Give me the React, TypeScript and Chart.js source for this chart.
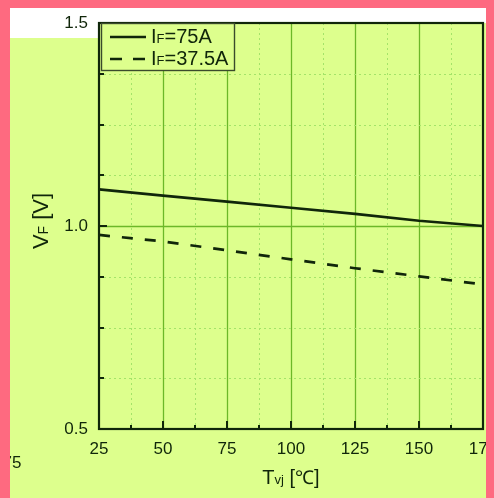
import React, { useEffect, useRef } from "react";
import { Chart, registerables } from "chart.js";

Chart.register(...registerables);

// ---- data ----
const temperatures = [25, 50, 75, 100, 125, 150, 175];
const vfIF75 = [1.09, 1.075, 1.06, 1.045, 1.03, 1.013, 1.0];
const vfIF375 = [0.978, 0.962, 0.94, 0.918, 0.896, 0.876, 0.856];
const legendMain = ["I", "I"];
const legendSub = ["F", "F"];
const legendRest = ["=75A", "=37.5A"];
const xMin = 25;
const xMax = 175;
const xMajorStep = 25;
const xMinorStep = 12.5;
const yMin = 0.5;
const yMax = 1.5;
const yMajorStep = 0.5;
const yMinorStep = 0.125;

const PINK = "#FE6A80";
const LIME = "#DDFF8D";
const INK = "#10260a";
const FONT = "'Liberation Sans', Arial, sans-serif";

const decorPlugin = {
  id: "decor",
  beforeDatasetsDraw(chart: any) {
    const { ctx, chartArea: a, scales } = chart;
    const xs = scales.x;
    const ys = scales.y;
    ctx.save();
    // vertical grid
    for (let v = xMin + xMinorStep; v < xMax - 1e-6; v += xMinorStep) {
      const px = Math.round(xs.getPixelForValue(v)) + 0.5;
      const major = Math.abs(((v - xMin) / xMajorStep) - Math.round((v - xMin) / xMajorStep)) < 1e-6;
      ctx.beginPath();
      if (major) {
        ctx.setLineDash([]);
        ctx.strokeStyle = "#6cb828";
        ctx.lineWidth = 1.3;
      } else {
        ctx.setLineDash([2, 3]);
        ctx.strokeStyle = "#a4e468";
        ctx.lineWidth = 1;
      }
      ctx.moveTo(px, a.top);
      ctx.lineTo(px, a.bottom);
      ctx.stroke();
    }
    // horizontal grid
    for (let v = yMin + yMinorStep; v < yMax - 1e-6; v += yMinorStep) {
      const py = Math.round(ys.getPixelForValue(v)) + 0.5;
      const major = Math.abs(((v - yMin) / yMajorStep) - Math.round((v - yMin) / yMajorStep)) < 1e-6;
      ctx.beginPath();
      if (major) {
        ctx.setLineDash([]);
        ctx.strokeStyle = "#6cb828";
        ctx.lineWidth = 1.3;
      } else {
        ctx.setLineDash([2, 3]);
        ctx.strokeStyle = "#a4e468";
        ctx.lineWidth = 1;
      }
      ctx.moveTo(a.left, py);
      ctx.lineTo(a.right, py);
      ctx.stroke();
    }
    ctx.restore();
  },
  afterDatasetsDraw(chart: any) {
    const { ctx, chartArea: a, scales } = chart;
    const xs = scales.x;
    const ys = scales.y;
    ctx.save();
    ctx.setLineDash([]);
    ctx.strokeStyle = INK;
    // tick marks (inward)
    ctx.lineWidth = 2;
    for (let v = xMin + xMinorStep; v < xMax - 1e-6; v += xMinorStep) {
      const px = Math.round(xs.getPixelForValue(v));
      const major = Math.abs(((v - xMin) / xMajorStep) - Math.round((v - xMin) / xMajorStep)) < 1e-6;
      const len = major ? 8 : 4;
      ctx.beginPath();
      ctx.moveTo(px, a.bottom);
      ctx.lineTo(px, a.bottom - len);
      ctx.stroke();
    }
    for (let v = yMin + yMinorStep; v < yMax - 1e-6; v += yMinorStep) {
      const py = Math.round(ys.getPixelForValue(v));
      const major = Math.abs(((v - yMin) / yMajorStep) - Math.round((v - yMin) / yMajorStep)) < 1e-6;
      const len = major ? 8 : 5;
      ctx.beginPath();
      ctx.moveTo(a.left, py);
      ctx.lineTo(a.left + len, py);
      ctx.stroke();
    }
    // frame
    ctx.lineWidth = 2.2;
    ctx.strokeRect(a.left, a.top, a.right - a.left, a.bottom - a.top);

    // legend
    const lx = a.left + 2;
    const ly = a.top;
    const lw = 133;
    const lh = 47;
    ctx.fillStyle = LIME;
    ctx.fillRect(lx, ly, lw, lh);
    ctx.lineWidth = 1.4;
    ctx.strokeStyle = "#3a4a2c";
    ctx.strokeRect(lx + 0.5, ly + 0.5, lw, lh);
    const rows = [14, 36];
    const dashes = [[], [12, 11]];
    rows.forEach((dy, i) => {
      const yLine = ly + dy;
      ctx.beginPath();
      ctx.setLineDash(dashes[i]);
      ctx.strokeStyle = INK;
      ctx.lineWidth = 2.6;
      ctx.moveTo(lx + 9, yLine);
      ctx.lineTo(lx + 45, yLine);
      ctx.stroke();
      ctx.setLineDash([]);
      const base = yLine + 6;
      let tx = lx + 50;
      ctx.fillStyle = INK;
      ctx.textBaseline = "alphabetic";
      ctx.textAlign = "left";
      ctx.font = `20px ${FONT}`;
      ctx.fillText(legendMain[i], tx, base);
      tx += ctx.measureText(legendMain[i]).width;
      ctx.font = `13px ${FONT}`;
      ctx.fillText(legendSub[i], tx, base);
      tx += ctx.measureText(legendSub[i]).width;
      ctx.font = `20px ${FONT}`;
      ctx.fillText(legendRest[i], tx, base);
    });

    // x title: T_vj [℃]
    const xParts: [string, number][] = [["T", 20], ["vj", 13], [" [", 20], ["\u2103", 19], ["]", 20]];
    let total = 0;
    xParts.forEach(([t, s]) => {
      ctx.font = `${s}px ${FONT}`;
      total += ctx.measureText(t).width;
    });
    let cx = (a.left + a.right) / 2 - total / 2;
    const xBase = a.bottom + 55;
    ctx.fillStyle = INK;
    xParts.forEach(([t, s]) => {
      ctx.font = `${s}px ${FONT}`;
      ctx.fillText(t, cx, xBase);
      cx += ctx.measureText(t).width;
    });

    // y title: V_F [V]
    const yParts: [string, number][] = [["V", 22], ["F", 14], [" [V]", 22]];
    let ytotal = 0;
    yParts.forEach(([t, s]) => {
      ctx.font = `${s}px ${FONT}`;
      ytotal += ctx.measureText(t).width;
    });
    ctx.save();
    ctx.translate(38, (a.top + a.bottom) / 2 - 5);
    ctx.rotate(-Math.PI / 2);
    let yx = -ytotal / 2;
    yParts.forEach(([t, s]) => {
      ctx.font = `${s}px ${FONT}`;
      ctx.fillText(t, yx, 0);
      yx += ctx.measureText(t).width;
    });
    ctx.restore();

    // clipped remnant of a tick label at the left edge
    ctx.font = `17px ${FONT}`;
    ctx.fillText("75", -7.5, 460);
    ctx.restore();
  },
};

export default function App() {
  const ref = useRef<HTMLCanvasElement | null>(null);
  useEffect(() => {
    if (!ref.current) return;
    const chart = new Chart(ref.current, {
      type: "line",
      data: {
        datasets: [
          {
            label: legendMain[0] + legendSub[0] + legendRest[0],
            data: temperatures.map((t, i) => ({ x: t, y: vfIF75[i] })),
            borderColor: INK,
            borderWidth: 2.7,
            pointRadius: 0,
            tension: 0,
          },
          {
            label: legendMain[1] + legendSub[1] + legendRest[1],
            data: temperatures.map((t, i) => ({ x: t, y: vfIF375[i] })),
            borderColor: INK,
            borderWidth: 2.7,
            borderDash: [11, 12],
            pointRadius: 0,
            tension: 0,
          },
        ],
      },
      options: {
        responsive: false,
        animation: false,
        devicePixelRatio: 1,
        layout: { padding: { top: 15, right: 3, left: 0, bottom: 0 } },
        plugins: { legend: { display: false }, tooltip: { enabled: false } },
        scales: {
          x: {
            type: "linear",
            min: xMin,
            max: xMax,
            grid: { display: false, drawTicks: false },
            border: { display: false },
            ticks: {
              stepSize: xMajorStep,
              padding: 10,
              color: INK,
              font: { family: FONT, size: 17 },
              maxRotation: 0,
              autoSkip: false,
            },
            afterFit: (s: any) => {
              s.height = 69;
              s.paddingLeft = 0;
              s.paddingRight = 0;
            },
          },
          y: {
            type: "linear",
            min: yMin,
            max: yMax,
            grid: { display: false, drawTicks: false },
            border: { display: false },
            ticks: {
              stepSize: yMajorStep,
              padding: 11,
              color: INK,
              font: { family: FONT, size: 17 },
              callback: (v: any) => Number(v).toFixed(1),
            },
            afterFit: (s: any) => {
              s.width = 89;
              s.paddingTop = 0;
              s.paddingBottom = 0;
            },
          },
        },
      },
      plugins: [decorPlugin],
    });
    return () => chart.destroy();
  }, []);

  return (
    <div style={{ position: "fixed", inset: 0, background: PINK }}>
      <div
        style={{
          position: "absolute",
          left: 10,
          top: 8,
          width: 476,
          height: 490,
          background: LIME,
          overflow: "hidden",
        }}
      >
        <div style={{ position: "absolute", left: 0, top: 0, width: 476, height: 15, background: "#ffffff" }} />
        <div style={{ position: "absolute", left: 0, top: 15, width: 88, height: 15, background: "#ffffff" }} />
        <canvas
          ref={ref}
          width={476}
          height={490}
          style={{ position: "absolute", left: 0, top: 0, width: 476, height: 490 }}
        />
      </div>
    </div>
  );
}
